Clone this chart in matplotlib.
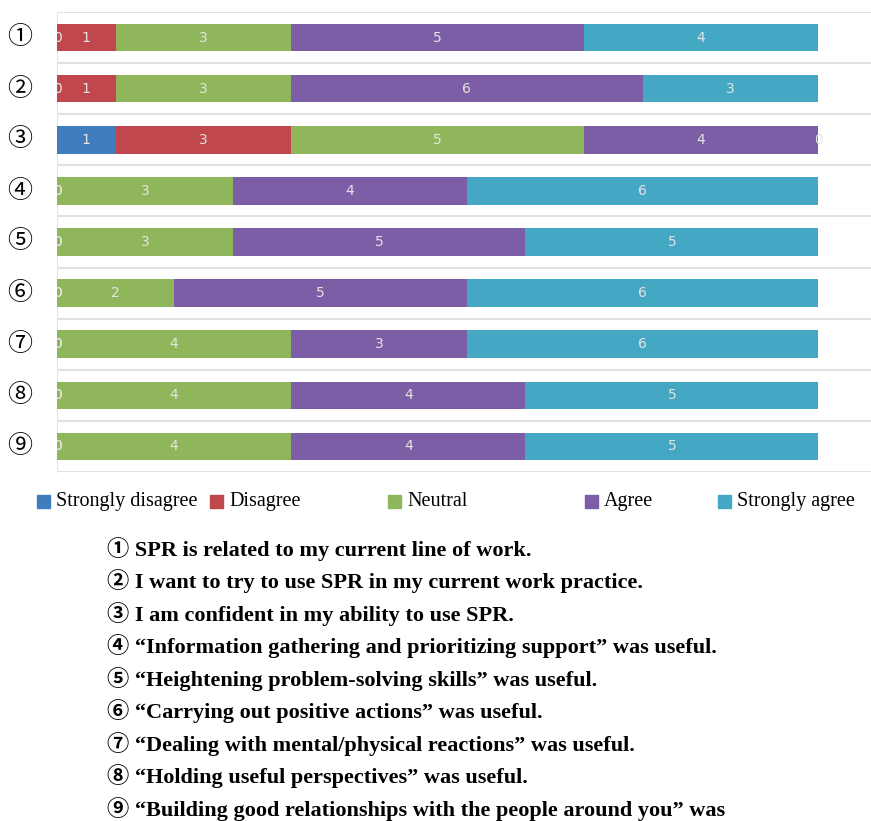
import numpy as np
import matplotlib.pyplot as plt
from matplotlib.patches import Rectangle

# ---- data ----
items = ['①', '②', '③', '④', '⑤', '⑥', '⑦', '⑧', '⑨']
categories = ['Strongly disagree', 'Disagree', 'Neutral', 'Agree', 'Strongly agree']
strongly_disagree = [0, 0, 1, 0, 0, 0, 0, 0, 0]
disagree = [1, 1, 3, 0, 0, 0, 0, 0, 0]
neutral = [3, 3, 5, 3, 3, 2, 4, 4, 4]
agree = [5, 6, 4, 4, 5, 5, 3, 4, 4]
strongly_agree = [4, 3, 0, 6, 5, 6, 6, 5, 5]
statements = [
    'SPR is related to my current line of work.',
    'I want to try to use SPR in my current work practice.',
    'I am confident in my ability to use SPR.',
    '\u201cInformation gathering and prioritizing support\u201d was useful.',
    '\u201cHeightening problem-solving skills\u201d was useful.',
    '\u201cCarrying out positive actions\u201d was useful.',
    '\u201cDealing with mental/physical reactions\u201d was useful.',
    '\u201cHolding useful perspectives\u201d was useful.',
    '\u201cBuilding good relationships with the people around you\u201d was',
]

colors_ = ['#3f7dbf', '#c0474c', '#8fb65a', '#7b5ea5', '#44a8c4']
serif = ['Liberation Serif', 'DejaVu Serif', 'Noto Sans CJK JP']

W, H = 871, 821
fig = plt.figure(figsize=(W / 100, H / 100), dpi=100)
ax = fig.add_axes([57 / W, 1 - 472 / H, (871 - 57) / W, (472 - 12) / H])

series = [strongly_disagree, disagree, neutral, agree, strongly_agree]
y = np.arange(len(items))
left = np.zeros(len(items))
for vals, col in zip(series, colors_):
    vals = np.array(vals, dtype=float)
    ax.barh(y, vals, left=left, height=0.54, color=col, zorder=3)
    for yi, (l, v) in enumerate(zip(left, vals)):
        ax.text(l + v / 2, yi, str(int(v)), ha='center', va='center',
                color='#e4e4e4', fontsize=10, zorder=4, clip_on=True)
    left += vals

ax.set_xlim(0, 13.9)
ax.set_ylim(len(items) - 0.5, -0.5)
for b in np.arange(-0.5, len(items), 1.0):
    ax.axhline(b, color='#dcdcdc', lw=1.2, zorder=1)
ax.set_xticks([])
ax.set_yticks([])
for s in ['top', 'right', 'bottom']:
    ax.spines[s].set_visible(False)
ax.spines['left'].set_color('#e6e6e6')

for yi, lab in enumerate(items):
    fig.text(20 / W, 1 - (38 + yi * 51) / H, lab, ha='center', va='center',
             fontsize=18, family=serif)

# legend
leg_x = [37, 210, 388, 585, 718]
for x0, cat, col in zip(leg_x, categories, colors_):
    fig.patches.append(Rectangle((x0 / W, 1 - 508 / H), 13 / W, 13 / H,
                                 transform=fig.transFigure, color=col))
    fig.text((x0 + 19) / W, 1 - 501 / H, cat, ha='left', va='center',
             fontsize=14.5, family=serif)

# statements
for i, (lab, st) in enumerate(zip(items, statements)):
    fig.text(107 / W, 1 - (549 + i * 32.5) / H, lab + ' ' + st, ha='left', va='center',
             fontsize=16, fontweight='bold', family=serif)

fig.savefig('out.png', dpi=100)
